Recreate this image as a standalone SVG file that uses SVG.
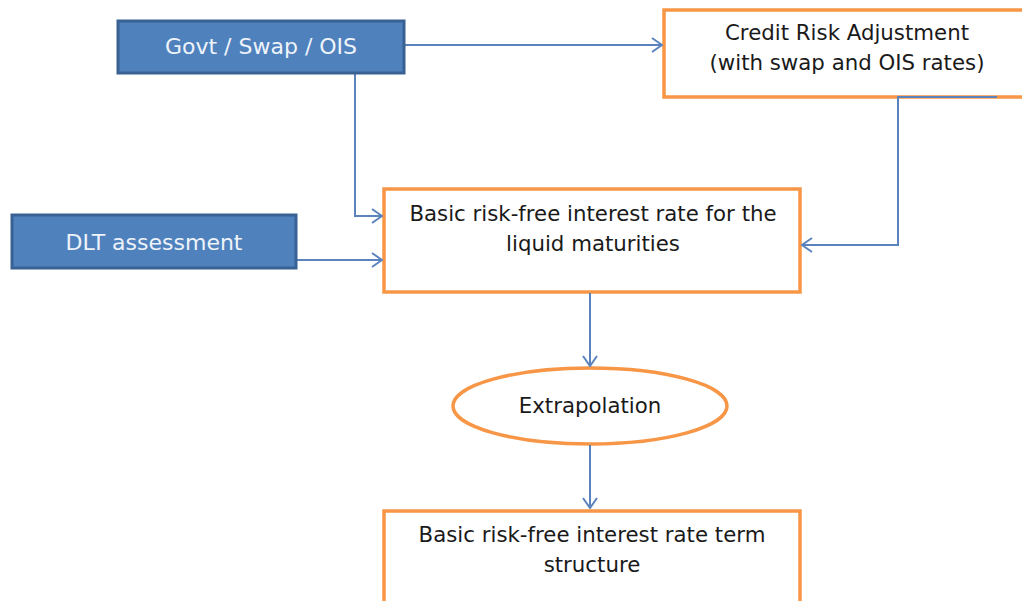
<svg xmlns="http://www.w3.org/2000/svg" width="1022" height="601" viewBox="0 0 1022 601">
<defs>
<marker id="arr" viewBox="0 0 12 16" refX="11" refY="8" markerWidth="12" markerHeight="16" markerUnits="userSpaceOnUse" orient="auto">
<path d="M1,1 L11,8 L1,15" fill="none" stroke="#5b84bd" stroke-width="2"/>
</marker>
<style>
.blue{fill:#4f81bd;stroke:#3a6193;stroke-width:3}
.org{fill:#ffffff;stroke:#f79646;stroke-width:3.5}
.wt{font-family:"DejaVu Sans",Verdana,sans-serif;font-size:22px;fill:#eef3fa;text-anchor:middle}
.bt{font-family:"DejaVu Sans",Verdana,sans-serif;font-size:21.3px;fill:#1a1a1a;text-anchor:middle}
.con{fill:none;stroke:#5b84bd;stroke-width:2}
</style>
</defs>
<rect width="1022" height="601" fill="#ffffff"/>
<g id="credit">
<rect class="org" x="664" y="10" width="380" height="87"/>
<text class="bt" x="847" y="40">Credit Risk Adjustment</text>
<text class="bt" x="847" y="70">(with swap and OIS rates)</text>
</g>
<g id="basic">
<rect class="org" x="384" y="189" width="416" height="103"/>
<text class="bt" x="593" y="221">Basic risk-free interest rate for the</text>
<text class="bt" x="593" y="251">liquid maturities</text>
</g>
<g id="extrap">
<ellipse class="org" cx="590" cy="406" rx="137" ry="38"/>
<text class="bt" x="590" y="413">Extrapolation</text>
</g>
<g id="term">
<rect class="org" x="384" y="511" width="416" height="100"/>
<text class="bt" x="592" y="542">Basic risk-free interest rate term</text>
<text class="bt" x="592" y="572">structure</text>
</g>
<g id="connectors">
<path class="con" d="M404,45 H662" marker-end="url(#arr)"/>
<path class="con" d="M355,73 V216 H382" marker-end="url(#arr)"/>
<path class="con" d="M297,260 H382" marker-end="url(#arr)"/>
<path class="con" d="M997,97 H898 V245 H802" marker-end="url(#arr)"/>
<path class="con" d="M590,293 V366" marker-end="url(#arr)"/>
<path class="con" d="M590,445 V508" marker-end="url(#arr)"/>
</g>
<g id="govt">
<rect class="blue" x="118" y="21" width="286" height="52"/>
<text class="wt" x="261" y="54">Govt / Swap / OIS</text>
</g>
<g id="dlt">
<rect class="blue" x="12" y="215" width="284" height="53"/>
<text class="wt" x="154" y="250">DLT assessment</text>
</g>
</svg>
